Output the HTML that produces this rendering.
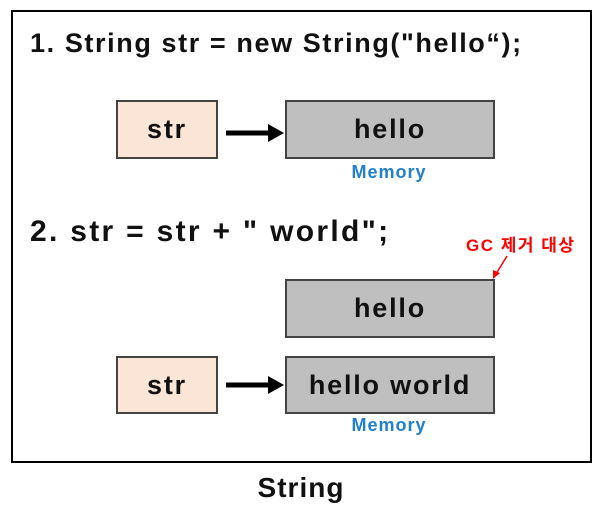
<!DOCTYPE html>
<html><head><meta charset="utf-8"><style>
body{margin:0;width:602px;height:513px;background:#fff;position:relative;overflow:hidden;font-family:"Liberation Sans","Noto Sans CJK KR",sans-serif;font-weight:bold}
div{position:absolute;box-sizing:border-box}
.frame{left:11px;top:10px;width:581px;height:453px;border:2px solid #000}
.box{border:2px solid #444;display:flex;align-items:center;justify-content:center;font-size:27px;color:#111;letter-spacing:1.8px}
.s{background:#fbe5d6}.g{background:#bfbfbf}
.t{white-space:nowrap;color:#111}
.mem{color:#2080d0;font-size:18px;width:210px;text-align:center;letter-spacing:1px}
</style></head><body>
<div class="frame"></div>
<div class="t" style="left:30px;top:28px;font-size:27px;letter-spacing:1.6px">1. String str = new String("hello“);</div>
<div class="box s" style="left:116px;top:100px;width:102px;height:59px">str</div>
<div class="box g" style="left:285px;top:100px;width:210px;height:59px">hello</div>
<div class="mem" style="left:284px;top:162px">Memory</div>
<div class="t" style="left:30px;top:215px;font-size:30px;letter-spacing:2.3px">2. str = str + " world";</div>
<div class="t" style="left:466px;top:231px;font-size:17px;color:#f00;letter-spacing:1.5px">GC 제거 대상</div>
<div class="box g" style="left:285px;top:279px;width:210px;height:59px">hello</div>
<div class="box s" style="left:116px;top:356px;width:102px;height:58px">str</div>
<div class="box g" style="left:285px;top:356px;width:210px;height:58px">hello world</div>
<div class="mem" style="left:284px;top:415px">Memory</div>
<div class="t" style="left:0;width:602px;text-align:center;top:472px;font-size:28px;letter-spacing:1px">String</div>
<svg style="position:absolute;left:0;top:0" width="602" height="513">
<line x1="226" y1="133" x2="270" y2="133" stroke="#000" stroke-width="5"/>
<polygon points="268,124 284,133 268,142" fill="#000"/>
<line x1="226" y1="385" x2="270" y2="385" stroke="#000" stroke-width="5"/>
<polygon points="268,376 284,385 268,394" fill="#000"/>
<line x1="507" y1="256" x2="496" y2="274" stroke="#f00" stroke-width="1.5"/>
<polygon points="493,279 493,270 500,273" fill="#f00"/>
</svg>
</body></html>
